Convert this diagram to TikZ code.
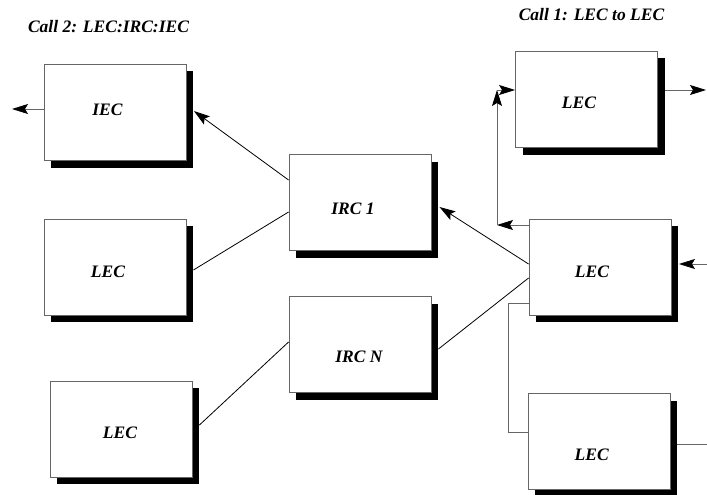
\documentclass[tikz,border=0pt]{standalone}
\usepackage{fontspec}
\setmainfont{Liberation Serif}
\usetikzlibrary{arrows.meta,shadows}
\begin{document}
\begin{tikzpicture}[x=1pt,y=-1pt,
  box/.style={draw=black!60, line width=0.9pt, fill=white, minimum width=142pt, minimum height=96pt, inner sep=0pt,
    general shadow={fill=black, shadow xshift=7pt, shadow yshift=-7pt}},
  lbl/.style={inner sep=0pt, font=\fontsize{17.5}{20}\selectfont\bfseries\itshape},
  arr/.style={line width=0.8pt, -{Stealth[length=16pt,width=10pt,inset=3pt,color=black]}},
  ln/.style={line width=0.8pt},
  gln/.style={line width=1pt, draw=black!60}
]
\useasboundingbox (0,0) rectangle (707,495);

% titles
\node[lbl] (t2) at (108.5,27) {Call 2: LEC:IRC:IEC};
\node[lbl] (t1) at (591.5,15) {Call 1: LEC to LEC};

% boxes
\node[box] (iec)  at (115,112.5) {};
\node[box] (lec2) at (115,267) {};
\node[box] (lec3) at (121,429) {};
\node[box] (irc1) at (360,202.5) {};
\node[box] (ircn) at (360,344.5) {};
\node[box] (lecT) at (586.5,99.5) {};
\node[box] (lecM) at (600,267) {};
\node[box] (lecB) at (599,441.5) {};

% labels
\node[lbl] (iec-l)  at (107.5,110) {IEC};
\node[lbl] (lec2-l) at (108,271.7) {LEC};
\node[lbl] (lec3-l) at (120,433) {LEC};
\node[lbl] (irc1-l) at (353,208.3) {IRC 1};
\node[lbl] (ircn-l) at (359,356.7) {IRC N};
\node[lbl] (lecT-l) at (579,103) {LEC};
\node[lbl] (lecM-l) at (592,271.7) {LEC};
\node[lbl] (lecB-l) at (591.7,455) {LEC};

% free ends
\coordinate (c1) at (497,225);
\coordinate (c2) at (497,90);
\coordinate (c3) at (508,303);
\coordinate (out1) at (706,90);
\coordinate (in1) at (707,264);
\coordinate (out2) at (707,444);
\coordinate (out3) at (12,109);

% left side
\draw[arr] ([yshift=22.5pt]irc1.west) -- ([xshift=7.5pt,yshift=1.5pt]iec.east);
\draw[ln] ([yshift=-9.5pt]irc1.west) -- ([xshift=7pt,yshift=-3pt]lec2.east);
\draw[ln] ([yshift=2.5pt]ircn.west) -- ([xshift=7pt,yshift=4pt]lec3.east);
\draw[arr,draw=black!60] ([yshift=3.5pt]iec.west) -- (out3);

% right side
\draw[arr] ([yshift=3pt]lecM.west) -- ([xshift=8pt,yshift=-4.5pt]irc1.east);
\draw[ln] ([yshift=-11pt]lecM.west) -- ([xshift=7pt,yshift=-4.5pt]ircn.east);
\draw[arr,draw=black!60] ([yshift=42pt]lecM.west) -- (c1);
\draw[arr,draw=black!60] (c1) -- (c2);
\draw[arr,draw=black!60] (c2) -- ([yshift=9.5pt]lecT.west);
\draw[arr,draw=black!60] ([xshift=7pt,yshift=9.5pt]lecT.east) -- (out1);
\draw[arr,draw=black!60] (in1) -- ([xshift=7.5pt,yshift=3pt]lecM.east);
\draw[gln] ([yshift=-36pt]lecM.west) -- (c3) |- ([yshift=9.5pt]lecB.west);
\draw[gln] ([xshift=7pt,yshift=-2.5pt]lecB.east) -- (out2);
\end{tikzpicture}
\end{document}
